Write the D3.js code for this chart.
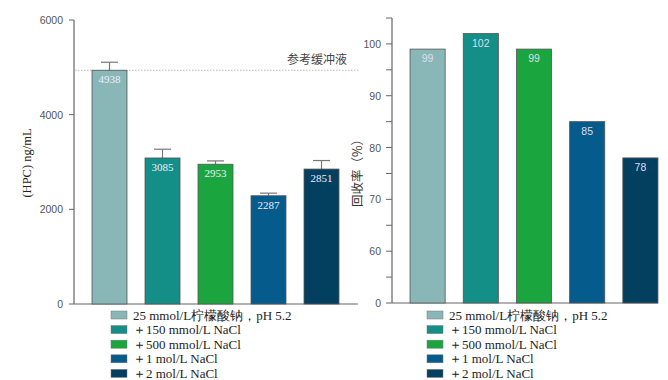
<!DOCTYPE html>
<html><head><meta charset="utf-8">
<script src="https://cdn.jsdelivr.net/npm/d3@7"></script>
<style>body{margin:0;background:#fff}svg{display:block}</style>
</head><body><svg id="c" width="668" height="380"></svg>
<script>
const categories = ["25 mmol/L柠檬酸钠，pH 5.2","＋150 mmol/L NaCl","＋500 mmol/L NaCl","＋1 mol/L NaCl","＋2 mol/L NaCl"];
const colors = ["#89b7b8","#138f88","#1ba53f","#055b8b","#033f5f"];
const hpcValues = [4938,3085,2953,2287,2851];
const hpcErrors = [170,185,70,55,180];
const recoveryValues = [99,102,99,85,78];
const leftTicks = [0,2000,4000,6000];
const rightMajor = [50,60,70,80,90,100];
const rightMinor = [55,65,75,85,95,105];
const refLabel = "参考缓冲液";
const refValue = 4938;

const svg = d3.select("#c");
const serif = "'Liberation Serif','Times New Roman',serif";
const sans = "'Liberation Sans',Arial,sans-serif";

// ---- Left chart ----
const xL = d3.scaleBand().domain(d3.range(5)).range([83,348]).paddingInner(0.34).paddingOuter(0.17);
const yL = d3.scaleLinear().domain([0,6000]).range([304,20]);
const gL = svg.append("g");
gL.append("line").attr("x1",74).attr("x2",74).attr("y1",20).attr("y2",304).attr("stroke","#666").attr("stroke-width",1.2);
gL.append("line").attr("x1",74).attr("x2",358).attr("y1",304).attr("y2",304).attr("stroke","#666").attr("stroke-width",1.2);
leftTicks.forEach(t=>{
  gL.append("line").attr("x1",69).attr("x2",74).attr("y1",yL(t)).attr("y2",yL(t)).attr("stroke","#666");
  gL.append("text").attr("x",63).attr("y",yL(t)+4).attr("text-anchor","end").attr("font-family",sans).attr("font-size",10.5).attr("fill","#555").text(t);
});
// ref line
gL.append("line").attr("x1",75).attr("x2",360).attr("y1",yL(refValue)).attr("y2",yL(refValue)).attr("stroke","#bbb").attr("stroke-width",1).attr("stroke-dasharray","1.5,1.5");
gL.append("text").attr("x",347).attr("y",yL(refValue)-6).attr("text-anchor","end").attr("font-family","'Noto Sans CJK SC',sans-serif").attr("font-size",12).attr("fill","#444").text(refLabel);
// error bars
hpcValues.forEach((v,i)=>{
  const cx = xL(i)+xL.bandwidth()/2;
  gL.append("line").attr("x1",cx).attr("x2",cx).attr("y1",yL(v)).attr("y2",yL(v+hpcErrors[i])).attr("stroke","#777").attr("stroke-width",1.2);
  gL.append("line").attr("x1",cx-8.5).attr("x2",cx+8.5).attr("y1",yL(v+hpcErrors[i])).attr("y2",yL(v+hpcErrors[i])).attr("stroke","#777").attr("stroke-width",1.2);
});
gL.selectAll("rect.b").data(hpcValues).join("rect")
  .attr("x",(d,i)=>xL(i)).attr("width",xL.bandwidth())
  .attr("y",d=>yL(d)).attr("height",d=>yL(0)-yL(d))
  .attr("fill",(d,i)=>colors[i]).attr("stroke","#555").attr("stroke-width",0.8);
gL.selectAll("text.v").data(hpcValues).join("text")
  .attr("x",(d,i)=>xL(i)+xL.bandwidth()/2).attr("y",d=>yL(d)+13)
  .attr("text-anchor","middle").attr("font-family",serif).attr("font-size",11).attr("fill","#eef").text(d=>d);
gL.append("text").attr("transform","translate(31,163) rotate(-90)").attr("text-anchor","middle")
  .attr("font-family",serif).attr("font-size",12.5).attr("fill","#222").text("(HPC) ng/mL");

// ---- Right chart ----
const xR = d3.scaleBand().domain(d3.range(5)).range([401,667]).paddingInner(0.34).paddingOuter(0.17);
const yR = d3.scaleLinear().domain([50,105]).range([303,18]);
const gR = svg.append("g");
gR.append("line").attr("x1",392).attr("x2",392).attr("y1",18).attr("y2",303).attr("stroke","#666").attr("stroke-width",1.2);
gR.append("line").attr("x1",392).attr("x2",658).attr("y1",303).attr("y2",303).attr("stroke","#666").attr("stroke-width",1.2);
rightMajor.concat(rightMinor).forEach(t=>{
  gR.append("line").attr("x1",386).attr("x2",392).attr("y1",yR(t)).attr("y2",yR(t)).attr("stroke","#666");
});
rightMajor.forEach(t=>{
  gR.append("text").attr("x",381).attr("y",yR(t)+4).attr("text-anchor","end").attr("font-family",sans).attr("font-size",10.5).attr("fill","#555").text(t===50?0:t);
});
gR.selectAll("rect.b").data(recoveryValues).join("rect")
  .attr("x",(d,i)=>xR(i)).attr("width",xR.bandwidth())
  .attr("y",d=>yR(d)).attr("height",d=>yR(50)-yR(d))
  .attr("fill",(d,i)=>colors[i]).attr("stroke","#555").attr("stroke-width",0.8);
gR.selectAll("text.v").data(recoveryValues).join("text")
  .attr("x",(d,i)=>xR(i)+xR.bandwidth()/2).attr("y",d=>yR(d)+13)
  .attr("text-anchor","middle").attr("font-family",sans).attr("font-size",10.5).attr("fill","#dde").text(d=>d);
gR.append("text").attr("transform","translate(362,170) rotate(-90)").attr("text-anchor","middle")
  .attr("font-family","'Noto Sans CJK SC',sans-serif").attr("font-size",12.5).attr("fill","#333").text("回收率（%）");

// ---- Legends ----
function legend(x0){
  const g = svg.append("g");
  categories.forEach((c,i)=>{
    const y = 315 + i*14.6;
    g.append("rect").attr("x",x0).attr("y",y-4).attr("width",16).attr("height",8).attr("fill",colors[i]).attr("stroke","#777").attr("stroke-width",0.5);
    g.append("text").attr("x",x0+22).attr("y",y+4.5).attr("font-family",serif).attr("font-size",13).attr("fill","#222").text(c);
  });
}
legend(111);
legend(427);
</script></body></html>
